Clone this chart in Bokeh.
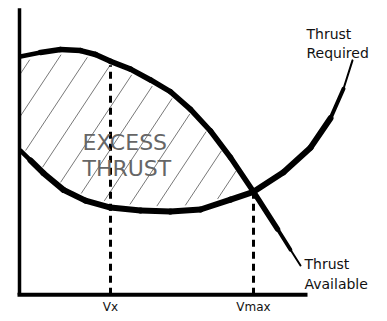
import numpy as np
from bokeh.plotting import figure
from bokeh.models import Range1d
from bokeh.core.properties import value
from bokeh.embed import file_html
from bokeh.resources import INLINE

# Airspeed (x) / thrust (y), arbitrary units
avail_speed = [1, 21, 41, 61, 76, 91, 111, 131, 151, 171, 191, 211, 234, 258, 271, 281]
avail_thrust = [243, 247, 250, 249, 245, 238, 230, 219, 207, 189, 167, 140, 105, 67, 46, 30]

req_speed = [1, 11, 24, 44, 66, 91, 121, 151, 181, 211, 234, 264, 291, 311, 324, 333]
req_thrust = [147, 137, 124, 107, 96, 89, 86, 85, 87, 97, 105, 125, 150, 180, 210, 239]

tick_speeds = [91, 234]
tick_labels = ["Vx", "Vmax"]

p = figure(width=379, height=313, x_range=Range1d(-19, 360), y_range=Range1d(-19, 300),
           output_backend="svg", toolbar_location=None, min_border=0,
           x_axis_location=None, y_axis_location=None)
p.grid.visible = False
p.outline_line_color = None
p.background_fill_color = "white"
p.border_fill_color = "white"

# hand-drawn style hatching of the excess-thrust region (clipped between the curves)
vmax = tick_speeds[1]
theta = np.deg2rad(57)
hx0, hy0, hx1, hy1 = [], [], [], []
for c in np.arange(-117.4 - 28 * 2, vmax, 28.0):
    ys = np.linspace(0, 290, 1200)
    xs = c + ys / np.tan(theta)
    ok = (xs > 0) & (xs < vmax)
    inside = ok & (ys > np.interp(xs, req_speed, req_thrust) + 5) & \
        (ys < np.interp(xs, avail_speed, avail_thrust) - 5)
    idx = np.where(inside)[0]
    if len(idx) < 10:
        continue
    hx0.append(xs[idx[0]]); hy0.append(ys[idx[0]])
    hx1.append(xs[idx[-1]]); hy1.append(ys[idx[-1]])
p.segment(x0=hx0, y0=hy0, x1=hx1, y1=hy1, line_color="#555555", line_width=0.8)

# dashed verticals
top_vx = float(np.interp(tick_speeds[0], avail_speed, avail_thrust)) - 4
top_vmax = float(np.interp(tick_speeds[1], req_speed, req_thrust))
p.segment(x0=tick_speeds, y0=[0, 0], x1=tick_speeds, y1=[top_vx, top_vmax],
          line_color="black", line_width=3, line_dash="7 5")


def tapered(xs, ys, base, start_w, end_w, n_in, n_out):
    n = len(xs) - 1
    widths = []
    for i in range(n):
        w = base
        if i < n_in:
            w = start_w + (base - start_w) * (i + 1) / (n_in + 1)
        if i >= n - n_out:
            k = n - i
            w = end_w + (base - end_w) * (k - 1) / n_out
        widths.append(w)
    segx = [[xs[i], xs[i + 1]] for i in range(n)]
    segy = [[ys[i], ys[i + 1]] for i in range(n)]
    p.multi_line(segx, segy, line_width=widths, line_color="black", line_cap="round",
                 line_join="round")


tapered(avail_speed, avail_thrust, 5.5, 3.5, 2.0, 1, 2)
tapered(req_speed, req_thrust, 6.0, 3.0, 2.0, 1, 2)

# axes
p.segment(x0=[0], y0=[0], x1=[0], y1=[292], line_color="black", line_width=3.5)
p.segment(x0=[-2], y0=[0], x1=[288], y1=[0], line_color="black", line_width=4)

# tick labels
p.text(x=tick_speeds, y=[-12, -12], text=tick_labels, text_align="center",
       text_baseline="alphabetic", text_font=value("DejaVu Sans"),
       text_font_size="12px", text_color="#111111")

# region label
p.text(x=[63, 63], y=[155, 129], text=["EXCESS", "THRUST"], text_align="left",
       text_baseline="alphabetic", text_font=value("DejaVu Sans"), text_font_size="22px",
       text_color="#666666")

# curve labels
p.text(x=[287, 287], y=[266, 246], text=["Thrust", "Required"], text_align="left",
       text_baseline="alphabetic", text_font=value("DejaVu Sans"), text_font_size="14px",
       text_color="#111111")
p.text(x=[285, 285], y=[31, 11], text=["Thrust", "Available"], text_align="left",
       text_baseline="alphabetic", text_font=value("DejaVu Sans"), text_font_size="14px",
       text_color="#111111")

open("out.html", "w").write(file_html(p, INLINE))
